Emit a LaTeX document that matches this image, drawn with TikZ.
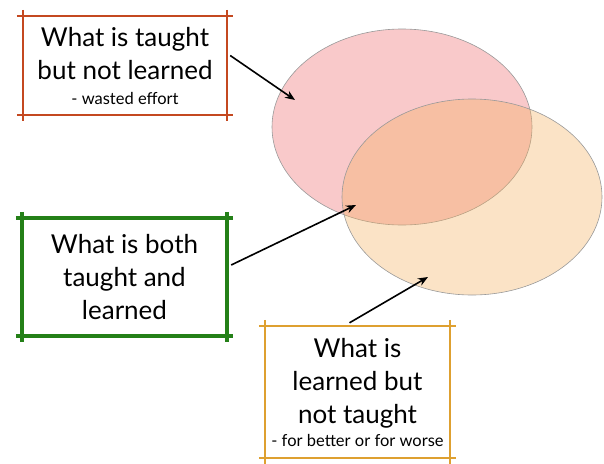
\documentclass[tikz,border=0pt]{standalone}
\usepackage{fontspec}
\setmainfont{Lato}
\usepackage{tikz}
\usetikzlibrary{positioning, shapes.geometric, arrows.meta}
\definecolor{pinkset}{RGB}{249,201,202}
\definecolor{orangeset}{RGB}{244,175,92}
\definecolor{redframe}{RGB}{196,72,32}
\definecolor{greenframe}{RGB}{36,128,24}
\definecolor{orangeframe}{RGB}{222,160,48}

\begin{document}
\begin{tikzpicture}[
    x=1pt, y=-1pt,
    set/.style={ellipse, draw=black!40, line width=0.6pt, minimum width=260pt, minimum height=196pt},
    label box/.style={minimum width=#1, inner sep=0pt, align=center, font=\fontsize{26}{33}\selectfont},
    pointer/.style={-{Stealth[length=10pt, width=8pt]}, line width=1.6pt}
]
    \useasboundingbox (0,0) rectangle (604,463);

    % the two sets
    \node[set, fill=pinkset] (taughtset) at (402,127) {};
    \node[set, fill=orangeset, fill opacity=0.35] (learnedset) at (472,197) {};

    % the three labels
    \node[label box=204pt, minimum height=99pt] (wasted) at (125,65.5)
        {What is taught\\but not learned\\[-8pt]{\fontsize{16.5}{18}\selectfont - wasted effort}};
    \node[label box=205pt, minimum height=118pt] (both) at (124.5,277)
        {What is both\\taught and\\learned};
    \node[label box=185pt, minimum height=132pt] (notaught) at (357.5,392)
        {What is\\learned but\\not taught\\[-10pt]{\fontsize{16.5}{18}\selectfont - for better or for worse}};

    % frames with the corners crossing over
    \foreach \frm/\col/\wd in {wasted/redframe/1.6pt, both/greenframe/4pt, notaught/orangeframe/1.6pt} {
        \draw[\col, line width=\wd, shorten <=-6pt, shorten >=-6pt] (\frm.north west) -- (\frm.north east);
        \draw[\col, line width=\wd, shorten <=-6pt, shorten >=-6pt] (\frm.south west) -- (\frm.south east);
        \draw[\col, line width=\wd, shorten <=-6pt, shorten >=-6pt] (\frm.north west) -- (\frm.south west);
        \draw[\col, line width=\wd, shorten <=-6pt, shorten >=-6pt] (\frm.north east) -- (\frm.south east);
    }

    % arrow ends inside the sets
    \coordinate (wastedtip) at (295,100);
    \coordinate (bothtip) at (356,205);
    \coordinate (notaughttip) at (428,277);

    \draw[pointer] ([xshift=3pt, yshift=10pt]wasted.east) -- (wastedtip);
    \draw[pointer] ([xshift=4pt, yshift=12pt]both.east) -- (bothtip);
    \draw[pointer] ([xshift=-8pt, yshift=3pt]notaught.north) -- (notaughttip);
\end{tikzpicture}
\end{document}
